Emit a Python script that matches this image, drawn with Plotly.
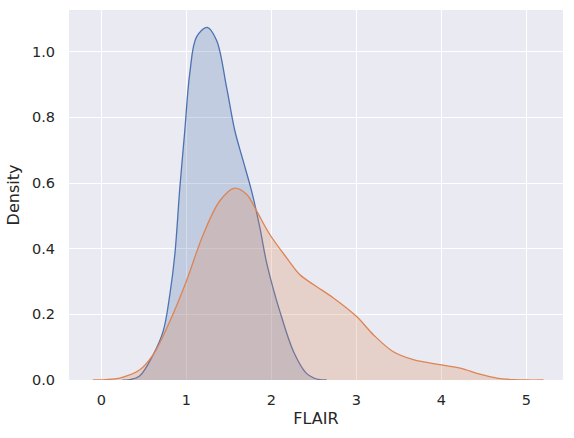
import plotly.graph_objects as go

# =====================
# Data
# =====================
blue_x = [0.25, 0.335, 0.45, 0.61, 0.727, 0.806, 0.865, 0.924, 0.982, 1.04, 1.12, 1.245, 1.355,
          1.473, 1.57, 1.668, 1.767, 1.865, 1.94, 2.02, 2.1, 2.26, 2.41, 2.5, 2.57, 2.65]
blue_y = [0.0, 0.001, 0.012, 0.077, 0.148, 0.26, 0.383, 0.587, 0.76, 0.933, 1.045, 1.074, 1.035,
          0.892, 0.76, 0.668, 0.576, 0.464, 0.362, 0.28, 0.209, 0.087, 0.021, 0.006, 0.001, 0.0]

orange_x = [-0.1, 0.05, 0.218, 0.453, 0.61, 0.806, 1.0, 1.2, 1.394, 1.559, 1.708, 1.826, 1.98,
            2.18, 2.33, 2.5, 2.73, 3.0, 3.2, 3.43, 3.67, 4.0, 4.22, 4.45, 4.65, 4.85, 5.0, 5.2]
orange_y = [0.0, 0.001, 0.006, 0.031, 0.077, 0.179, 0.301, 0.444, 0.546, 0.584, 0.566, 0.515, 0.444,
            0.372, 0.322, 0.29, 0.25, 0.194, 0.138, 0.087, 0.062, 0.046, 0.036, 0.018, 0.006, 0.001, 0.0, 0.0]

x_ticks = [0, 1, 2, 3, 4, 5]
y_ticks = [0.0, 0.2, 0.4, 0.6, 0.8, 1.0]

fig = go.Figure()
fig.add_trace(go.Scatter(
    x=blue_x, y=blue_y, mode="lines", line=dict(color="#4c72b0", width=1.3, shape="spline"),
    fill="tozeroy", fillcolor="rgba(76,114,176,0.25)", showlegend=False,
))
fig.add_trace(go.Scatter(
    x=orange_x, y=orange_y, mode="lines", line=dict(color="#dd8452", width=1.3, shape="spline"),
    fill="tozeroy", fillcolor="rgba(221,132,82,0.25)", showlegend=False,
))

fig.update_layout(
    width=574, height=438,
    paper_bgcolor="white", plot_bgcolor="#eaeaf2",
    margin=dict(l=69, r=11, t=10, b=58),
    font=dict(family="DejaVu Sans", size=14.5, color="#262626"),
)
fig.update_xaxes(
    range=[-0.38, 5.43], tickvals=x_ticks, ticktext=[str(v) for v in x_ticks],
    gridcolor="white", gridwidth=1.3, zeroline=False, showline=False, ticks="",
    automargin=False, ticklabelstandoff=9,
    title=dict(text="FLAIR", font=dict(size=16), standoff=6),
)
fig.update_yaxes(
    range=[0, 1.127], tickvals=y_ticks, ticktext=[f"{v:.1f}" for v in y_ticks],
    gridcolor="white", gridwidth=1.3, zeroline=False, showline=False, ticks="",
    automargin=False, ticklabelstandoff=13,
    title=dict(text="Density", font=dict(size=16), standoff=8),
)

# drop the browser's default body margin so the figure sits at the window corner
fig.write_html("out.html", config={"displayModeBar": False},
               post_script="document.body.style.margin='0';")
